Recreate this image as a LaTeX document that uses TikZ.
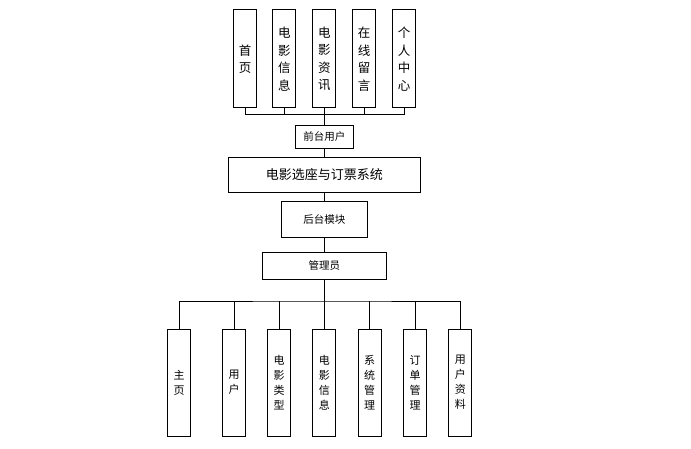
\documentclass[tikz,border=0pt]{standalone}
\usepackage{fontspec}
\setmainfont{Noto Sans CJK SC}
\usetikzlibrary{positioning}

\begin{document}
\begin{tikzpicture}[
  x=1pt, y=-1pt,
  every node/.style={
    rectangle, draw, line width=1pt, inner sep=0pt, align=center
  },
  tallbox/.style={minimum width=23pt, minimum height=98pt, font=\fontsize{12.5}{17.5}\selectfont},
  lowbox/.style={minimum width=23pt, minimum height=107pt, font=\fontsize{11}{15}\selectfont},
  midbox/.style={font=\fontsize{10.5}{13}\selectfont},
  line/.style={line width=1pt}
]
\useasboundingbox (0,0) rectangle (691,449);
% front end
\node[tallbox] (home) at (245,59) {首\\页};
\node[tallbox] (movieinfo) at (284.3,59) {电\\影\\信\\息};
\node[tallbox] (movienews) at (324.3,59) {电\\影\\资\\讯};
\node[tallbox] (message) at (364,59) {在\\线\\留\\言};
\node[tallbox] (center) at (404,59) {个\\人\\中\\心};
\node[midbox, minimum width=58pt, minimum height=22.6pt] (front) at (324.3,137) {前台用户};
\node[font=\fontsize{13}{15}\selectfont, minimum width=192pt, minimum height=35.4pt] (sys) at (324.3,175) {电影选座与订票系统};
\node[midbox, minimum width=86pt, minimum height=35.6pt] (back) at (324.3,219.5) {后台模块};
\node[midbox, minimum width=123.6pt, minimum height=27pt] (admin) at (324.3,265.8) {管理员};
% back end
\node[lowbox] (main) at (179,382.5) {主\\页};
\node[lowbox] (user) at (234,382.5) {用\\户};
\node[lowbox] (movietype) at (279,382.5) {电\\影\\类\\型};
\node[lowbox] (movies) at (324.3,382.5) {电\\影\\信\\息};
\node[lowbox] (sysadmin) at (369.5,382.5) {系\\统\\管\\理};
\node[lowbox] (orders) at (415,382.5) {订\\单\\管\\理};
\node[lowbox] (profile) at (460.3,382.5) {用\\户\\资\\料};
\coordinate (topbus) at (324.3,114.3);
\coordinate (lowbus) at (324.3,301);
\draw[line] (home.south) |- (topbus) -| (center.south);
\draw[line] (movieinfo.south) -- (movieinfo.south |- topbus);
\draw[line] (message.south) -- (message.south |- topbus);
\draw[line] (movienews.south) -- (front.north);
\draw[line] (front) -- (sys);
\draw[line] (sys) -- (back);
\draw[line] (back) -- (admin);
\draw[line] (main.north) |- (lowbus) -| (profile.north);
\draw[line] (user.north) -- (user.north |- lowbus);
\draw[line] (movietype.north) -- (movietype.north |- lowbus);
\draw[line] (sysadmin.north) -- (sysadmin.north |- lowbus);
\draw[line] (orders.north) -- (orders.north |- lowbus);
\draw[line] (admin.south) -- (movies.north);
\end{tikzpicture}
\end{document}
